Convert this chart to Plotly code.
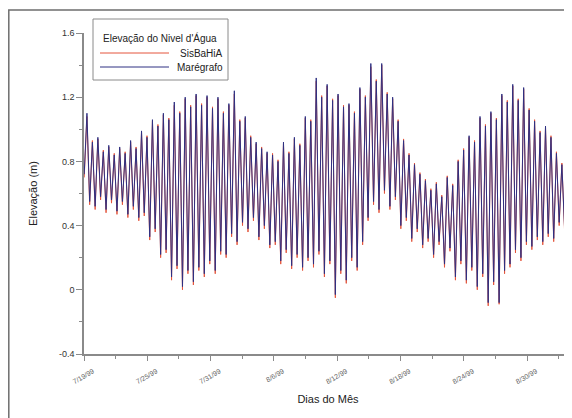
import datetime as dt
import plotly.graph_objects as go

# ---- data ----
start_date = dt.datetime(1999, 7, 19)
half_cycle_days = 0.25875          # spacing between successive high/low waters
first_extreme_day = 0.02

# Marégrafo (observed) high waters and low waters, in order
obs_high = [1.10, 0.92, 0.95, 0.86, 0.90, 0.84, 0.89, 0.85, 0.93, 0.88,
            0.99, 0.95, 1.06, 1.02, 1.10, 1.06, 1.17, 1.10, 1.20, 1.14,
            1.22, 1.15, 1.21, 1.13, 1.20, 1.10, 1.16, 1.24, 1.05, 1.08,
            0.95, 0.92, 0.88, 0.86, 0.84, 0.80, 0.92, 0.85, 0.95, 0.90,
            1.08, 1.05, 1.32, 1.20, 1.28, 1.18, 1.22, 1.14, 1.16, 1.10,
            1.26, 1.20, 1.41, 1.30, 1.41, 1.22, 1.20, 1.05, 0.93, 0.84,
            0.78, 0.72, 0.68, 0.62, 0.66, 0.58, 0.70, 0.65, 0.80, 0.87,
            0.96, 0.92, 1.08, 1.02, 1.11, 1.06, 1.22, 1.17, 1.28, 1.18,
            1.26, 1.12, 1.05, 0.98, 1.02, 0.95, 0.85, 0.78, 0.80]
obs_low = [0.72, 0.55, 0.52, 0.58, 0.50, 0.56, 0.49, 0.55, 0.47, 0.52,
           0.45, 0.48, 0.33, 0.38, 0.22, 0.25, 0.08, 0.15, 0.02, 0.12,
           0.05, 0.14, 0.10, 0.18, 0.12, 0.24, 0.22, 0.35, 0.30, 0.42,
           0.38, 0.45, 0.33, 0.40, 0.28, 0.30, 0.18, 0.25, 0.15, 0.22,
           0.14, 0.20, 0.16, 0.24, 0.10, 0.18, -0.03, 0.12, 0.06, 0.20,
           0.14, 0.30, 0.45, 0.55, 0.50, 0.62, 0.52, 0.58, 0.40, 0.45,
           0.32, 0.38, 0.28, 0.32, 0.22, 0.30, 0.16, 0.26, 0.08, 0.18,
           0.06, 0.14, 0.02, 0.10, -0.08, 0.05, -0.08, 0.12, 0.16, 0.25,
           0.20, 0.30, 0.27, 0.33, 0.30, 0.35, 0.32, 0.42, 0.38, 0.55]

# SisBaHiA (model) high waters and low waters, in order
mod_high = [1.08, 0.93, 0.94, 0.87, 0.89, 0.85, 0.88, 0.86, 0.92, 0.89,
            0.98, 0.96, 1.05, 1.03, 1.09, 1.07, 1.15, 1.11, 1.19, 1.15,
            1.21, 1.16, 1.20, 1.14, 1.19, 1.11, 1.15, 1.22, 1.06, 1.07,
            0.96, 0.91, 0.89, 0.85, 0.85, 0.81, 0.91, 0.86, 0.94, 0.91,
            1.07, 1.06, 1.30, 1.21, 1.27, 1.19, 1.21, 1.15, 1.15, 1.11,
            1.25, 1.21, 1.39, 1.31, 1.40, 1.23, 1.19, 1.06, 0.94, 0.85,
            0.79, 0.73, 0.69, 0.63, 0.67, 0.59, 0.71, 0.66, 0.81, 0.88,
            0.95, 0.93, 1.07, 1.03, 1.10, 1.07, 1.21, 1.18, 1.27, 1.19,
            1.25, 1.13, 1.06, 0.99, 1.01, 0.96, 0.86, 0.79, 0.81]
mod_low = [0.70, 0.53, 0.50, 0.56, 0.48, 0.54, 0.47, 0.53, 0.45, 0.50,
           0.43, 0.46, 0.31, 0.36, 0.20, 0.23, 0.06, 0.13, 0.00, 0.10,
           0.03, 0.12, 0.08, 0.16, 0.10, 0.22, 0.20, 0.33, 0.28, 0.40,
           0.36, 0.43, 0.31, 0.38, 0.26, 0.28, 0.16, 0.23, 0.13, 0.20,
           0.12, 0.18, 0.14, 0.22, 0.08, 0.16, -0.05, 0.10, 0.04, 0.18,
           0.12, 0.28, 0.43, 0.53, 0.48, 0.60, 0.50, 0.56, 0.38, 0.43,
           0.30, 0.36, 0.26, 0.30, 0.20, 0.28, 0.14, 0.24, 0.06, 0.16,
           0.04, 0.12, 0.00, 0.08, -0.10, 0.03, -0.09, 0.10, 0.14, 0.23,
           0.18, 0.28, 0.25, 0.31, 0.28, 0.33, 0.30, 0.40, 0.36, 0.53]

tick_dates = ["1999-07-19", "1999-07-25", "1999-07-31", "1999-08-06",
              "1999-08-12", "1999-08-18", "1999-08-24", "1999-08-30"]
tick_labels = ["7/19/99", "7/25/99", "7/31/99", "8/6/99",
               "8/12/99", "8/18/99", "8/24/99", "8/30/99"]
y_tick_vals = [-0.4, 0, 0.4, 0.8, 1.2, 1.6]
y_tick_text = ["-0.4", "0", "0.4", "0.8", "1.2", "1.6"]


def series(lows, highs):
    vals = []
    for i, lo in enumerate(lows):
        vals.append(lo)
        if i < len(highs):
            vals.append(highs[i])
    times = [start_date + dt.timedelta(days=first_extreme_day + j * half_cycle_days)
             for j in range(len(vals))]
    return times, vals


t_mod, v_mod = series(mod_low, mod_high)
t_obs, v_obs = series(obs_low, obs_high)

RED = "#e4553c"
BLUE = "#2e3082"

fig = go.Figure()
fig.add_trace(go.Scatter(x=t_mod, y=v_mod, mode="lines", name="SisBaHiA",
                         line=dict(color=RED, width=1)))
fig.add_trace(go.Scatter(x=t_obs, y=v_obs, mode="lines", name="Marégrafo",
                         line=dict(color=BLUE, width=1)))

x_end = start_date + dt.timedelta(days=46.26)

# page is offset by the browser's 8px body margin
OFF = 8
W, H = 572 - OFF, 418 - OFF
L, R, T, B = 84 - OFF, 0, 33 - OFF, 64
pw, ph = W - L - R, H - T - B


def px(x):          # page pixel -> paper coordinate
    return (x - OFF - L) / pw


def py(y):
    return (H - B - (y - OFF)) / ph


AX = "#8a8a8a"
fig.update_layout(
    width=W, height=H,
    margin=dict(l=L, r=R, t=T, b=B),
    paper_bgcolor="white", plot_bgcolor="white",
    showlegend=False,
    font=dict(family="Liberation Sans, Arial, sans-serif", color="#333"),
    xaxis=dict(
        range=[start_date, x_end],
        type="date",
        tickvals=tick_dates, ticktext=tick_labels,
        tickangle=-30, tickfont=dict(size=7, color="#666"),
        ticklabelshift=9, ticklabelstandoff=4,
        ticks="outside", ticklen=5, tickcolor=AX,
        minor=dict(dtick=3 * 86400000, tick0="1999-07-19", ticks="outside",
                   ticklen=3, tickcolor=AX),
        showline=True, linecolor=AX, linewidth=1.5,
        showgrid=False, zeroline=False,
        title=dict(text="Dias do Mês", font=dict(size=11, color="#222"), standoff=11),
    ),
    yaxis=dict(
        range=[-0.4, 1.6],
        tickvals=y_tick_vals, ticktext=y_tick_text,
        tickfont=dict(size=9, color="#333"),
        ticks="outside", ticklen=6, tickcolor=AX,
        minor=dict(dtick=0.2, tick0=-0.4, ticks="outside", ticklen=3, tickcolor=AX),
        showline=True, linecolor=AX, linewidth=1.5,
        showgrid=False, zeroline=False,
        title=dict(text="Elevação (m)", font=dict(size=11, color="#222"), standoff=19),
    ),
)

# outer frame of the original figure
fig.add_shape(type="rect", xref="paper", yref="paper",
              x0=px(8.8), x1=px(600), y0=py(450), y1=py(10),
              line=dict(color="#6e6e6e", width=1.5), layer="below")

# legend box drawn in the style of the original
fig.add_shape(type="rect", xref="paper", yref="paper",
              x0=px(93), x1=px(228), y0=py(80), y1=py(19),
              line=dict(color="#8a8a8a", width=1), fillcolor="white")
fig.add_annotation(xref="paper", yref="paper", x=px(160), y=py(38),
                   text="Elevação do Nivel d'Água", showarrow=False,
                   font=dict(size=10, color="#222"), xanchor="center", yanchor="middle")
for yy, name, col in [(53, "SisBaHiA", RED), (67, "Marégrafo", BLUE)]:
    fig.add_shape(type="line", xref="paper", yref="paper",
                  x0=px(100), x1=px(169), y0=py(yy), y1=py(yy),
                  line=dict(color=col, width=1))
    fig.add_annotation(xref="paper", yref="paper", x=px(225), y=py(yy),
                       text=name, showarrow=False, font=dict(size=10, color="#222"),
                       xanchor="right", yanchor="middle")

fig.write_html("out.html")
